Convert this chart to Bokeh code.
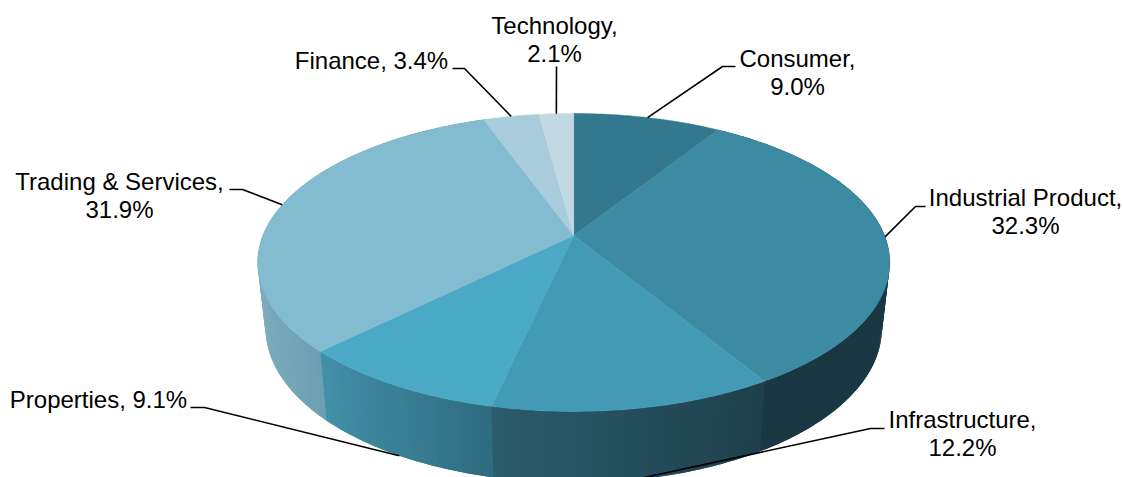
import math
from bokeh.plotting import figure
from bokeh.models import Range1d
from bokeh.core.properties import value
from bokeh.embed import file_html
from bokeh.resources import INLINE

categories = ["Consumer", "Industrial Product", "Infrastructure", "Properties",
              "Trading & Services", "Finance", "Technology"]
shares = [9.0, 32.3, 12.2, 9.1, 31.9, 3.4, 2.1]
top_colors = ["#33788c", "#3d8ba3", "#439ab5", "#4aa9c5", "#83bbd0", "#a8ccdb", "#c2d9e4"]
wall_colors = [("#33788c", "#33788c"), ("#1a3843", "#1a3843"), ("#2b5d6d", "#1e3f4b"),
               ("#428fa8", "#2f6b7e"), ("#7cabbd", "#6c9fb3"), ("#a8ccdb", "#a8ccdb"), ("#c2d9e4", "#c2d9e4")]
label_lines = [["Consumer,", "9.0%"], ["Industrial Product,", "32.3%"], ["Infrastructure,", "12.2%"],
               ["Properties, 9.1%"], ["Trading & Services,", "31.9%"], ["Finance, 3.4%"], ["Technology,", "2.1%"]]
label_centers = [(797, 58), (1025, 197), (962, 419), (98, 399), (119, 181), (371, 60), (554, 25)]
elbows = [[(722, 66), (735, 66)], [(915, 206), (925, 206)], [(870, 428), (884, 428)],
          [(204, 407), (190, 407)], [(242, 189), (229, 189)], [(464, 68), (452, 68)], [(556, 66)]]
leader_on_floor = [False, False, True, True, False, False, False]

CX, CY, A, B, K = 573.2, 235, 144.1, 310.8, 0.181
FLOOR_Y, FLOOR_SX, FLOOR_SY = 300, 0.975, 1.036
total = sum(shares)


def rim(turn):
    t = 2 * math.pi * turn
    u, v = math.sin(t), math.cos(t)
    d = 1 + K * v
    return B * u / d, -A * v / d, v


def top_pt(turn):
    x, y, _ = rim(turn)
    return CX + x, CY + y


def floor_pt(turn):
    x, y, _ = rim(turn)
    return CX + FLOOR_SX * x, FLOOR_Y + FLOOR_SY * y


def hex_rgb(h):
    return tuple(int(h[i:i + 2], 16) for i in (1, 3, 5))


def mix(a, b, f):
    ca, cb = hex_rgb(a), hex_rgb(b)
    return "#%02x%02x%02x" % tuple(round(p + (q - p) * f) for p, q in zip(ca, cb))


p = figure(width=1123, height=477, output_backend="svg", toolbar_location=None,
           x_range=Range1d(0, 1123), y_range=Range1d(477, 0), min_border=0,
           background_fill_color="white", border_fill_color="white", outline_line_color=None)
p.xaxis.visible = False
p.yaxis.visible = False
p.grid.visible = False

edges = [0.0]
for s in shares:
    edges.append(edges[-1] + s / total)

# side wall: thin overlapping strips shaded by horizontal position within each slice
wx, wy, wc = [], [], []
for i in range(len(shares)):
    a0, a1 = edges[i], edges[i + 1]
    n = max(2, int((a1 - a0) * 360))
    step = (a1 - a0) / n
    turns = [a0 + step * j for j in range(n + 1)]
    front = [top_pt(t)[0] for t in turns if rim(t)[2] <= 0]
    if not front:
        continue
    x0, x1 = min(front), max(front)
    for j in range(n):
        t0, t1 = turns[j], turns[j + 1] + step
        tx0, ty0 = top_pt(t0)
        tx1, ty1 = top_pt(t1)
        fx0, fy0 = floor_pt(t0)
        fx1, fy1 = floor_pt(t1)
        f = min(1, max(0, ((top_pt(t0)[0] + top_pt(t0 + step)[0]) / 2 - x0) / max(x1 - x0, 1)))
        wx.append([tx0, top_pt(t0 + step)[0], tx1, fx1, floor_pt(t0 + step)[0], fx0])
        wy.append([ty0, top_pt(t0 + step)[1], ty1, fy1, floor_pt(t0 + step)[1], fy0])
        wc.append(mix(wall_colors[i][0], wall_colors[i][1], f))
p.patches(wx, wy, fill_color=wc, line_color=None)

# top face
fx, fy = [], []
for i in range(len(shares)):
    a0, a1 = edges[i], edges[i + 1]
    n = max(4, int((a1 - a0) * 360))
    xs, ys = [CX], [CY]
    for j in range(n + 1):
        x, y = top_pt(a0 + (a1 - a0) * j / n)
        xs.append(x)
        ys.append(y)
    fx.append(xs)
    fy.append(ys)
p.patches(fx, fy, fill_color=top_colors, line_color=top_colors, line_width=0.5)

# leaders and labels
for i in range(len(shares)):
    mid = (edges[i] + edges[i + 1]) / 2
    ax, ay = floor_pt(mid) if leader_on_floor[i] else top_pt(mid)
    p.line([ax] + [e[0] for e in elbows[i]], [ay] + [e[1] for e in elbows[i]],
           line_color="black", line_width=1.6)
    cx, cy = label_centers[i]
    for k, line in enumerate(label_lines[i]):
        p.text([cx], [cy + k * 28], text=[line], text_font=value("Liberation Sans"),
               text_font_size="24px", text_color="#000000", text_align="center", text_baseline="middle")

open("out.html", "w").write(file_html(p, INLINE))
